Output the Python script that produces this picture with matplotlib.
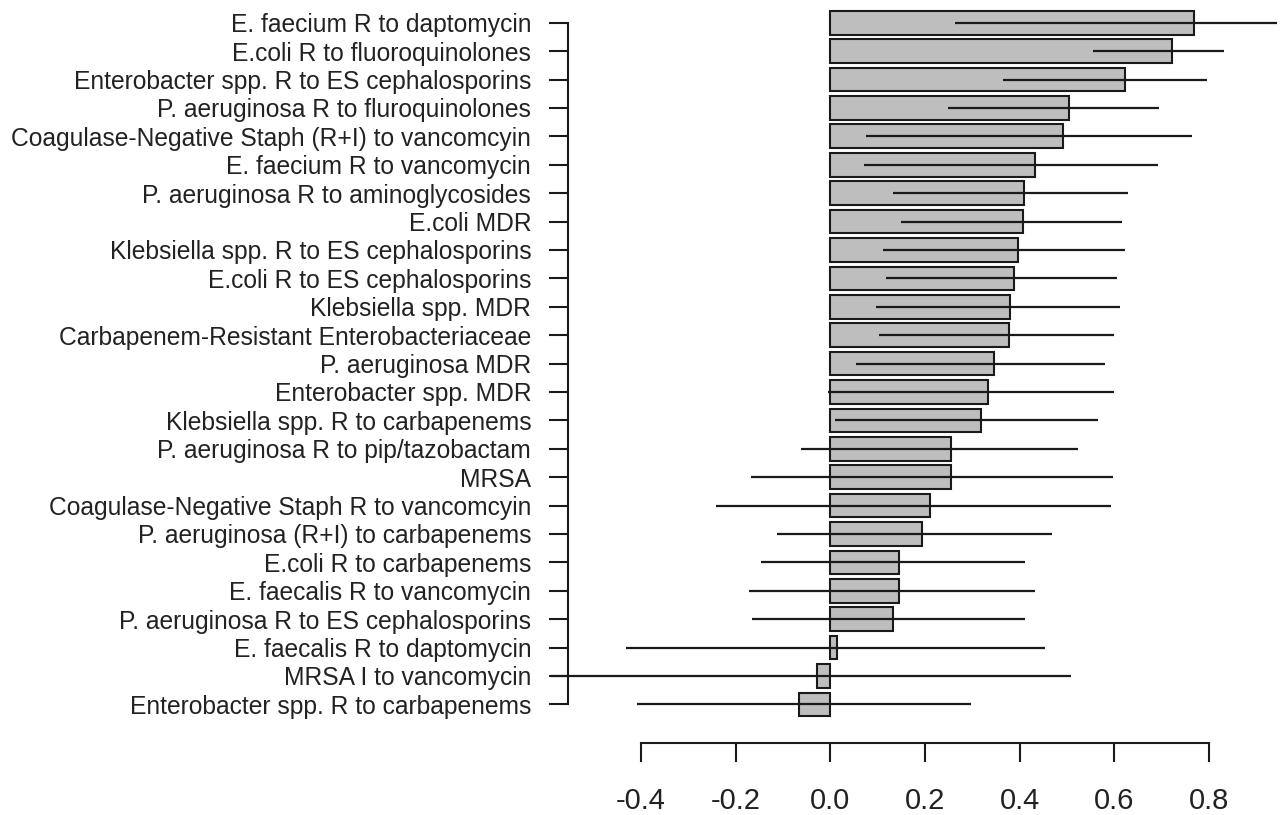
import numpy as np
import matplotlib
matplotlib.use("Agg")
import matplotlib.pyplot as plt

labels = [
    "E. faecium R to daptomycin",
    "E.coli R to fluoroquinolones",
    "Enterobacter spp. R to ES cephalosporins",
    "P. aeruginosa R to fluroquinolones",
    "Coagulase-Negative Staph (R+I) to vancomcyin",
    "E. faecium R to vancomycin",
    "P. aeruginosa R to aminoglycosides",
    "E.coli MDR",
    "Klebsiella spp. R to ES cephalosporins",
    "E.coli R to ES cephalosporins",
    "Klebsiella spp. MDR",
    "Carbapenem-Resistant Enterobacteriaceae",
    "P. aeruginosa MDR",
    "Enterobacter spp. MDR",
    "Klebsiella spp. R to carbapenems",
    "P. aeruginosa R to pip/tazobactam",
    "MRSA",
    "Coagulase-Negative Staph R to vancomcyin",
    "P. aeruginosa (R+I) to carbapenems",
    "E.coli R to carbapenems",
    "E. faecalis R to vancomycin",
    "P. aeruginosa R to ES cephalosporins",
    "E. faecalis R to daptomycin",
    "MRSA I to vancomycin",
    "Enterobacter spp. R to carbapenems",
]

estimate = [0.768, 0.722, 0.623, 0.505, 0.492, 0.433, 0.409, 0.407, 0.396,
            0.388, 0.380, 0.378, 0.345, 0.332, 0.317, 0.255, 0.255, 0.210,
            0.193, 0.145, 0.145, 0.133, 0.013, -0.029, -0.066]
ci_low = [0.263, 0.555, 0.365, 0.248, 0.075, 0.070, 0.132, 0.150, 0.110,
          0.118, 0.096, 0.103, 0.054, -0.005, 0.010, -0.063, -0.167, -0.242,
          -0.113, -0.146, -0.173, -0.166, -0.432, -0.590, -0.408]
ci_high = [0.943, 0.832, 0.795, 0.695, 0.764, 0.693, 0.629, 0.615, 0.622,
           0.606, 0.611, 0.599, 0.580, 0.599, 0.565, 0.524, 0.597, 0.592,
           0.467, 0.412, 0.432, 0.412, 0.453, 0.509, 0.297]

xticks = [-0.4, -0.2, 0.0, 0.2, 0.4, 0.6, 0.8]

plt.rcParams['font.family'] = ['Liberation Sans', 'DejaVu Sans']

W, H = 1282, 815
fig = plt.figure(figsize=(W / 100, H / 100), dpi=100)
ax = fig.add_axes([568 / W, (H - 743) / H, (W - 568) / W, 743 / H])

n = len(labels)
pos = np.arange(n)[::-1]  # first label on top

ax.barh(pos, estimate, height=1 / 1.2, color="#bebebe",
        edgecolor="#1a1a1a", linewidth=1.5, zorder=2)
ax.hlines(pos, ci_low, ci_high, color="#1a1a1a", linewidth=1.6,
          zorder=3, clip_on=False)

ax.set_xlim(-0.5546, 0.954)
ax.set_ylim(-1.36, 24.8)

for side in ("top", "right"):
    ax.spines[side].set_visible(False)
ax.spines["left"].set_bounds(0, n - 1)
ax.spines["bottom"].set_bounds(xticks[0], xticks[-1])
for side in ("left", "bottom"):
    ax.spines[side].set_linewidth(1.5)
    ax.spines[side].set_color("#1a1a1a")

ax.set_yticks(pos)
ax.set_yticklabels(labels, fontsize=17.75, color="#222222")
ax.set_xticks(xticks)
ax.set_xticklabels(["%.1f" % v for v in xticks], fontsize=21, color="#222222")
ax.tick_params(axis="y", length=13.5, width=1.5, pad=13, color="#1a1a1a")
ax.tick_params(axis="x", length=13.5, width=1.5, pad=18.5, color="#1a1a1a")

fig.savefig("out.png", dpi=100, facecolor="white")
